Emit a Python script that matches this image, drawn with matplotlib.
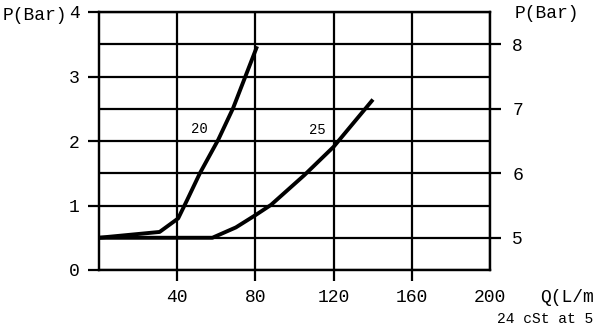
import numpy as np
import matplotlib.pyplot as plt

plt.rcParams['font.family'] = ['Liberation Mono', 'DejaVu Sans Mono']

# curva 20 (Q em L/min, P em bar)
q_20 = [0, 31, 40.5, 45, 51.6, 61, 68.6, 80.5]
p_20 = [0.5, 0.59, 0.80, 1.08, 1.50, 2.02, 2.51, 3.44]

# curva 25
q_25 = [0, 58, 70, 80, 88, 105, 120, 139.5]
p_25 = [0.5, 0.5, 0.66, 0.85, 1.01, 1.47, 1.91, 2.62]

x_ticks = [40, 80, 120, 160, 200]
y_ticks = [0, 1, 2, 3, 4]
y2_ticks = [5, 6, 7, 8]

lw_grid = 1.6

fig = plt.figure(figsize=(6, 3.28), dpi=100)
ax = fig.add_axes([99/600, 58/328, 391/600, 258/328])

ax.plot(q_20, p_20, color='black', linewidth=2.8, solid_joinstyle='round')
ax.plot(q_25, p_25, color='black', linewidth=2.8, solid_joinstyle='round')
ax.text(51.2, 2.18, '20', fontsize=10, ha='center', va='center')
ax.text(111.7, 2.17, '25', fontsize=10, ha='center', va='center')

ax.set_xlim(0, 200)
ax.set_ylim(0, 4)
ax.set_xticks(x_ticks)
ax.set_yticks(y_ticks)
ax.set_yticks(np.arange(0.5, 4, 1.0), minor=True)
ax.grid(True, which='both', color='black', linewidth=lw_grid)
ax.tick_params(axis='both', which='major', length=8, width=lw_grid,
               labelsize=13, pad=6)
ax.tick_params(axis='y', which='minor', length=0)
for s in ax.spines.values():
    s.set_linewidth(lw_grid)

# sem marca nos cantos
ax.yaxis.get_major_ticks()[0].tick1line.set_visible(False)
ax.yaxis.get_major_ticks()[-1].tick1line.set_visible(False)
ax.xaxis.get_major_ticks()[-1].tick1line.set_visible(False)

ax2 = ax.twinx()
ax2.set_ylim(4.5, 8.5)
ax2.set_yticks(y2_ticks)
ax2.tick_params(axis='y', length=8, width=lw_grid, labelsize=13, pad=8)
for s in ax2.spines.values():
    s.set_linewidth(lw_grid)

fig.text(67/600, 1 - 15/328, 'P(Bar)', fontsize=13, ha='right', va='center')
fig.text(515/600, 1 - 14/328, 'P(Bar)', fontsize=13, ha='left', va='center')
fig.text(540/600, 1 - 297/328, 'Q(L/m', fontsize=13, ha='left', va='center')
fig.text(497/600, 1 - 319/328, '24 cSt at 5', fontsize=10.5, ha='left', va='center')

fig.savefig('out.png', dpi=100)
